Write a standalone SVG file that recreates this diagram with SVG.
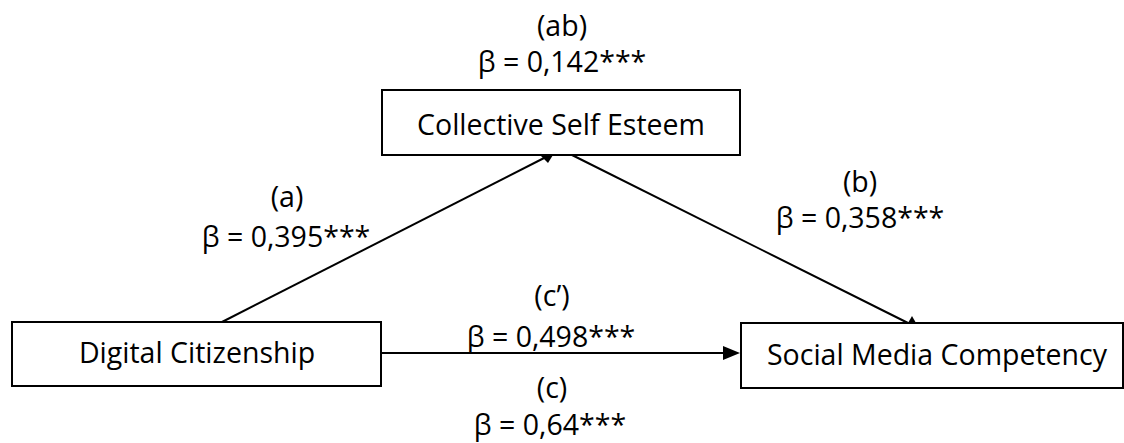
<svg xmlns="http://www.w3.org/2000/svg" width="1124" height="443" viewBox="0 0 1124 443">
<style>
.box{fill:#fff;stroke:#000;stroke-width:2}
.t{font-family:"Open Sans","Liberation Sans",sans-serif;font-size:28.5px;fill:#000;text-anchor:middle}
.ln{stroke:#000;stroke-width:2;fill:none}
.ah{fill:#000}
</style>
<g id="connectors">
<line class="ln" x1="222" y1="322" x2="548" y2="156"/>
<polygon class="ah" points="553,155 541,156 548,163"/>
<line class="ln" x1="572" y1="155" x2="908" y2="323"/>
<polygon class="ah" points="908,323 916,323 912,316"/>
<line class="ln" x1="381" y1="353" x2="725" y2="353"/>
<polygon class="ah" points="740,353 723,346 723,360"/>
</g>
<g id="node-cse">
<rect class="box" x="382" y="90" width="358" height="65"/>
<text class="t" x="561" y="135">Collective Self Esteem</text>
</g>
<g id="node-dc">
<rect class="box" x="12" y="322" width="369" height="64"/>
<text class="t" x="197" y="363">Digital Citizenship</text>
</g>
<g id="node-smc">
<rect class="box" x="741" y="323" width="382" height="65"/>
<text class="t" x="937" y="365">Social Media Competency</text>
</g>
<g id="labels">
<text class="t" x="562" y="36">(ab)</text>
<text class="t" x="562" y="72">β = 0,142***</text>
<text class="t" x="287" y="207">(a)</text>
<text class="t" x="286" y="247">β = 0,395***</text>
<text class="t" x="860" y="192">(b)</text>
<text class="t" x="860" y="228">β = 0,358***</text>
<text class="t" x="552" y="306">(c’)</text>
<text class="t" x="551" y="347">β = 0,498***</text>
<text class="t" x="552" y="398">(c)</text>
<text class="t" x="550" y="435">β = 0,64***</text>
</g>
</svg>
